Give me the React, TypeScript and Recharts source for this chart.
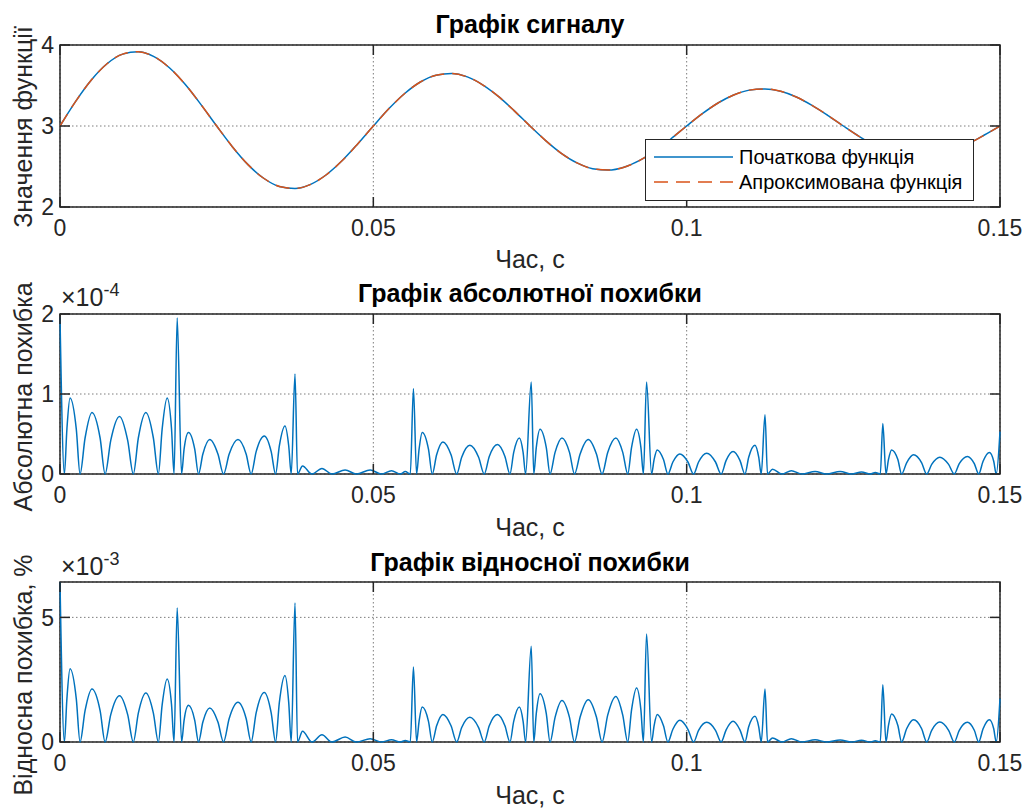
import React from 'react';
import { LineChart, Line, XAxis, YAxis, CartesianGrid, ReferenceArea, Legend } from 'recharts';

const FONT = '"Liberation Sans", Arial, Helvetica, sans-serif';
const AXIS = '#262626';
const BLUE = '#0072BD';
const ORANGE = '#D95319';

// x axis (time, s)
const xTicks = [0, 0.05, 0.1, 0.15];
const xTickLabels = ['0', '0.05', '0.1', '0.15'];

// signal plot
const signalT = [
  0, 0.0025, 0.005, 0.0075, 0.01, 0.0125, 0.015, 0.0175, 0.02, 0.0225,
  0.025, 0.0275, 0.03, 0.0325, 0.035, 0.0375, 0.04, 0.0425, 0.045, 0.0475,
  0.05, 0.0525, 0.055, 0.0575, 0.06, 0.0625, 0.065, 0.0675, 0.07, 0.0725,
  0.075, 0.0775, 0.08, 0.0825, 0.085, 0.0875, 0.09, 0.0925, 0.095, 0.0975,
  0.1, 0.1025, 0.105, 0.1075, 0.11, 0.1125, 0.115, 0.1175, 0.12, 0.1225,
  0.125, 0.1275, 0.13, 0.1325, 0.135, 0.1375, 0.14, 0.1425, 0.145, 0.1475,
  0.15,
];
const signalValues = [
  3.0, 3.304, 3.568, 3.768, 3.887, 3.917, 3.857, 3.716, 3.512, 3.264,
  3.0, 2.745, 2.523, 2.355, 2.254, 2.229, 2.28, 2.398, 2.57, 2.778,
  3.0, 3.215, 3.401, 3.543, 3.627, 3.648, 3.606, 3.506, 3.362, 3.187,
  3.0, 2.82, 2.663, 2.544, 2.473, 2.456, 2.491, 2.575, 2.696, 2.843,
  3.0, 3.152, 3.284, 3.383, 3.443, 3.458, 3.428, 3.358, 3.255, 3.132,
  3.0, 2.873, 2.762, 2.678, 2.628, 2.615, 2.64, 2.699, 2.785, 2.889,
  3.0,
];
const approxValues = [
  3.0, 3.304, 3.568, 3.768, 3.887, 3.917, 3.857, 3.716, 3.512, 3.264,
  3.0, 2.745, 2.523, 2.355, 2.254, 2.229, 2.28, 2.398, 2.57, 2.778,
  3.0, 3.215, 3.401, 3.543, 3.627, 3.648, 3.606, 3.506, 3.362, 3.187,
  3.0, 2.82, 2.663, 2.544, 2.473, 2.456, 2.491, 2.575, 2.696, 2.843,
  3.0, 3.152, 3.284, 3.383, 3.443, 3.458, 3.428, 3.358, 3.255, 3.132,
  3.0, 2.873, 2.762, 2.678, 2.628, 2.615, 2.64, 2.699, 2.785, 2.889,
  3.0,
];
const signalTicks = [2, 3, 4];
const signalTickLabels = ['2', '3', '4'];
const seriesNames = ['Початкова функція', 'Апроксимована функція'];

// error plots (abs in 1e-4, rel in 1e-3 %)
const errT = [
  0, 0.0007, 0.0011, 0.0016, 0.0026, 0.0032, 0.004, 0.0051, 0.0064, 0.0072,
  0.0081, 0.0095, 0.0108, 0.0117, 0.0125, 0.0137, 0.0149, 0.0157, 0.0163, 0.0171,
  0.0178, 0.0182, 0.0187, 0.0194, 0.0198, 0.0205, 0.0215, 0.0221, 0.0228, 0.0239,
  0.0252, 0.0261, 0.027, 0.0284, 0.0297, 0.0305, 0.0313, 0.0326, 0.0337, 0.0344,
  0.035, 0.0359, 0.0365, 0.0369, 0.0375, 0.0379, 0.0387, 0.0402, 0.0418, 0.0434,
  0.0455, 0.0473, 0.0495, 0.0513, 0.0529, 0.0543, 0.0551, 0.0559, 0.0564, 0.0569,
  0.0573, 0.0578, 0.0588, 0.0594, 0.0601, 0.0611, 0.0624, 0.0633, 0.0641, 0.0654,
  0.0668, 0.0677, 0.0685, 0.0698, 0.071, 0.0718, 0.0724, 0.0733, 0.0739, 0.0743,
  0.0752, 0.0756, 0.076, 0.0766, 0.0776, 0.0782, 0.079, 0.0801, 0.0813, 0.0821,
  0.083, 0.0843, 0.0856, 0.0865, 0.0874, 0.0887, 0.0898, 0.0906, 0.0912, 0.092,
  0.0927, 0.0931, 0.0936, 0.0944, 0.0948, 0.0953, 0.0963, 0.097, 0.0978, 0.0989,
  0.1002, 0.1011, 0.1019, 0.1032, 0.1046, 0.1055, 0.1063, 0.1074, 0.1085, 0.1093,
  0.1099, 0.1109, 0.1115, 0.1119, 0.1125, 0.1129, 0.1137, 0.1152, 0.1167, 0.1184,
  0.1205, 0.1223, 0.1245, 0.1263, 0.1279, 0.1293, 0.1301, 0.1309, 0.1313, 0.1318,
  0.1322, 0.1327, 0.1337, 0.1343, 0.1351, 0.1362, 0.1375, 0.1383, 0.1391, 0.1404,
  0.1418, 0.1427, 0.1435, 0.1448, 0.1459, 0.1466, 0.1473, 0.1483, 0.149, 0.1494,
  0.15,
];
const absErr = [
  1.96, 0, 0.56, 0.95, 0.56, 0, 0.45, 0.77, 0.45, 0,
  0.42, 0.72, 0.42, 0, 0.45, 0.77, 0.45, 0, 0.56, 0.95,
  0.56, 0, 1.95, 0, 0.31, 0.52, 0.31, 0, 0.25, 0.43,
  0.25, 0, 0.25, 0.43, 0.25, 0, 0.28, 0.475, 0.28, 0,
  0.35, 0.6, 0.35, 0, 1.25, 0, 0.1, 0, 0.07, 0,
  0.05, 0, 0.05, 0, 0.04, 0, 0.03, 0, 1.07, 0,
  0.31, 0.52, 0.31, 0, 0.24, 0.4, 0.24, 0, 0.21, 0.36,
  0.21, 0, 0.22, 0.37, 0.22, 0, 0.27, 0.45, 0.27, 0,
  1.15, 0, 0.33, 0.56, 0.33, 0, 0.27, 0.45, 0.27, 0,
  0.25, 0.43, 0.25, 0, 0.27, 0.45, 0.27, 0, 0.33, 0.56,
  0.33, 0, 1.15, 0, 0.18, 0.3, 0.18, 0, 0.15, 0.25,
  0.15, 0, 0.15, 0.26, 0.15, 0, 0.17, 0.28, 0.17, 0,
  0.21, 0.36, 0.21, 0, 0.74, 0, 0.06, 0, 0.04, 0,
  0.03, 0, 0.03, 0, 0.025, 0, 0.02, 0, 0.63, 0,
  0.18, 0.3, 0.18, 0, 0.14, 0.24, 0.14, 0, 0.12, 0.21,
  0.12, 0, 0.13, 0.22, 0.13, 0, 0.16, 0.27, 0.16, 0,
  0.53,
];
const relErr = [
  6.42, 0, 1.73, 2.94, 1.73, 0, 1.26, 2.13, 1.26, 0,
  1.1, 1.86, 1.1, 0, 1.16, 1.97, 1.16, 0, 1.49, 2.53,
  1.49, 0, 5.38, 0, 0.87, 1.47, 0.87, 0, 0.8, 1.36,
  0.8, 0, 0.94, 1.59, 0.94, 0, 1.17, 1.99, 1.17, 0,
  1.58, 2.67, 1.58, 0, 5.58, 0, 0.43, 0, 0.29, 0,
  0.2, 0, 0.13, 0, 0.09, 0, 0.06, 0, 3.01, 0,
  0.83, 1.4, 0.83, 0, 0.65, 1.1, 0.65, 0, 0.58, 0.99,
  0.58, 0, 0.65, 1.1, 0.65, 0, 0.83, 1.4, 0.83, 0,
  3.84, 0, 1.14, 1.94, 1.14, 0, 0.99, 1.67, 0.99, 0,
  1.0, 1.7, 1.0, 0, 1.08, 1.83, 1.08, 0, 1.28, 2.17,
  1.28, 0, 4.33, 0, 0.65, 1.1, 0.65, 0, 0.51, 0.87,
  0.51, 0, 0.47, 0.79, 0.47, 0, 0.49, 0.83, 0.49, 0,
  0.61, 1.03, 0.61, 0, 2.13, 0, 0.16, 0, 0.13, 0,
  0.09, 0, 0.08, 0, 0.07, 0, 0.05, 0, 2.3, 0,
  0.66, 1.12, 0.66, 0, 0.53, 0.89, 0.53, 0, 0.47, 0.8,
  0.47, 0, 0.47, 0.79, 0.47, 0, 0.53, 0.89, 0.53, 0,
  1.74,
];
const absTicks = [0, 1, 2];
const absTickLabels = ['0', '1', '2'];
const relTicks = [0, 5];
const relTickLabels = ['0', '5'];

const signalData = signalT.map((t, i) => ({ t, orig: signalValues[i], approx: approxValues[i] }));
const errData = errT.map((t, i) => ({ t, abs: absErr[i], rel: relErr[i] }));

const W = 1025;
const LEFT = 60;
const RIGHT = 1000;
const TICK = 10;
const DASH = '14 8';

const makeXTick = (top: number, bottom: number) => (props: any) => {
  const { x, payload } = props;
  const i = xTicks.indexOf(payload.value);
  return (
    <g>
      <line x1={x} x2={x} y1={bottom} y2={bottom - TICK} stroke={AXIS} strokeWidth={1.5} />
      <line x1={x} x2={x} y1={top} y2={top + TICK} stroke={AXIS} strokeWidth={1.5} />
      <text x={x} y={bottom + 29} textAnchor="middle" fontSize={23} fontFamily={FONT} fill={AXIS}>
        {i >= 0 ? xTickLabels[i] : payload.value}
      </text>
    </g>
  );
};

const makeYTick = (ticks: number[], labels: string[]) => (props: any) => {
  const { y, payload } = props;
  const i = ticks.indexOf(payload.value);
  return (
    <g>
      <line x1={LEFT} x2={LEFT + TICK} y1={y} y2={y} stroke={AXIS} strokeWidth={1.5} />
      <line x1={RIGHT} x2={RIGHT - TICK} y1={y} y2={y} stroke={AXIS} strokeWidth={1.5} />
      <text x={54} y={y} dy="0.36em" textAnchor="end" fontSize={23} fontFamily={FONT} fill={AXIS}>
        {i >= 0 ? labels[i] : payload.value}
      </text>
    </g>
  );
};

// legend in the order of seriesNames, dashed entry for the approximation
const renderLegend = (props: any) => {
  const items = [...(props.payload || [])].sort(
    (a: any, b: any) => seriesNames.indexOf(a.value) - seriesNames.indexOf(b.value)
  );
  return (
    <svg width={329} height={62} style={{ display: 'block' }}>
      <rect x={0.5} y={0.5} width={328} height={61} fill="#fff" stroke={AXIS} strokeWidth={1} />
      {items.map((it: any, i: number) => {
        const cy = 18 + i * 25;
        const dashed = it.value === seriesNames[1];
        return (
          <g key={i}>
            <line x1={9} x2={88} y1={cy} y2={cy} stroke={it.color} strokeWidth={1.5}
              strokeDasharray={dashed ? DASH : undefined} />
            <text x={94} y={cy + 7} fontSize={20} fontFamily={FONT} fill="#000">{it.value}</text>
          </g>
        );
      })}
    </svg>
  );
};

const charts = [
  { top: 0, height: 270, plotTop: 45, plotBottom: 207 },
  { top: 270, height: 270, plotTop: 44, plotBottom: 204 },
  { top: 540, height: 270, plotTop: 42, plotBottom: 202 },
];

const grid = (
  <CartesianGrid stroke={AXIS} strokeOpacity={0.6} strokeDasharray="1.5 2.5" />
);

export default function App() {
  const [c0, c1, c2] = charts;
  return (
    <div style={{ position: 'absolute', left: 0, top: 0, width: W, height: 810, background: '#fff', fontFamily: FONT }}>
      <div style={{ position: 'absolute', left: 0, top: c0.top }}>
        <LineChart width={W} height={c0.height} data={signalData}
          margin={{ top: c0.plotTop, right: W - RIGHT, bottom: 0, left: 0 }}>
          {grid}
          <XAxis dataKey="t" type="number" domain={[0, 0.15]} ticks={xTicks} interval={0}
            height={c0.height - c0.plotBottom} tickLine={false} axisLine={false}
            tick={makeXTick(c0.plotTop, c0.plotBottom)} />
          <YAxis type="number" domain={[2, 4]} ticks={signalTicks} interval={0} width={LEFT}
            tickLine={false} axisLine={false} tick={makeYTick(signalTicks, signalTickLabels)} />
          <Line type="monotone" dataKey="orig" name={seriesNames[0]} stroke={BLUE} strokeWidth={1.5}
            dot={false} isAnimationActive={false} />
          <Line type="monotone" dataKey="approx" name={seriesNames[1]} stroke={ORANGE} strokeWidth={1.5}
            strokeDasharray={DASH} dot={false} isAnimationActive={false} />
          <ReferenceArea x1={0} x2={0.15} y1={2} y2={4} fill="none" stroke={AXIS} strokeWidth={1.5} />
          <Legend verticalAlign="middle" content={renderLegend}
            wrapperStyle={{ left: 645, top: 139, width: 329, height: 62 }} />
        </LineChart>
      </div>

      <div style={{ position: 'absolute', left: 0, top: c1.top }}>
        <LineChart width={W} height={c1.height} data={errData}
          margin={{ top: c1.plotTop, right: W - RIGHT, bottom: 0, left: 0 }}>
          {grid}
          <XAxis dataKey="t" type="number" domain={[0, 0.15]} ticks={xTicks} interval={0}
            height={c1.height - c1.plotBottom} tickLine={false} axisLine={false}
            tick={makeXTick(c1.plotTop, c1.plotBottom)} />
          <YAxis type="number" domain={[0, 2]} ticks={absTicks} interval={0} width={LEFT}
            tickLine={false} axisLine={false} tick={makeYTick(absTicks, absTickLabels)} />
          <Line type="monotone" dataKey="abs" stroke={BLUE} strokeWidth={1.5}
            dot={false} isAnimationActive={false} />
          <ReferenceArea x1={0} x2={0.15} y1={0} y2={2} fill="none" stroke={AXIS} strokeWidth={1.5} />
        </LineChart>
      </div>

      <div style={{ position: 'absolute', left: 0, top: c2.top }}>
        <LineChart width={W} height={c2.height} data={errData}
          margin={{ top: c2.plotTop, right: W - RIGHT, bottom: 0, left: 0 }}>
          {grid}
          <XAxis dataKey="t" type="number" domain={[0, 0.15]} ticks={xTicks} interval={0}
            height={c2.height - c2.plotBottom} tickLine={false} axisLine={false}
            tick={makeXTick(c2.plotTop, c2.plotBottom)} />
          <YAxis type="number" domain={[0, 6.42]} ticks={relTicks} interval={0} width={LEFT}
            tickLine={false} axisLine={false} tick={makeYTick(relTicks, relTickLabels)} />
          <Line type="monotone" dataKey="rel" stroke={BLUE} strokeWidth={1.5}
            dot={false} isAnimationActive={false} />
          <ReferenceArea x1={0} x2={0.15} y1={0} y2={6.42} fill="none" stroke={AXIS} strokeWidth={1.5} />
        </LineChart>
      </div>

      <svg width={W} height={810} style={{ position: 'absolute', left: 0, top: 0, pointerEvents: 'none' }}>
        <g fontFamily={FONT} textAnchor="middle">
          <text x={530} y={33} fontSize={25} fontWeight="bold" fill="#000">Графік сигналу</text>
          <text x={530} y={302} fontSize={25} fontWeight="bold" fill="#000">Графік абсолютної похибки</text>
          <text x={530} y={571} fontSize={25} fontWeight="bold" fill="#000">Графік відносної похибки</text>
          <text x={530} y={268} fontSize={25} fill={AXIS}>Час, с</text>
          <text x={530} y={536} fontSize={25} fill={AXIS}>Час, с</text>
          <text x={530} y={804} fontSize={25} fill={AXIS}>Час, с</text>
          <text transform="translate(32,127) rotate(-90)" fontSize={25} fill={AXIS}>Значення функції</text>
          <text transform="translate(32,397) rotate(-90)" fontSize={25} fill={AXIS}>Абсолютна похибка</text>
          <text transform="translate(32,675) rotate(-90)" fontSize={25} fill={AXIS}>Відносна похибка, %</text>
        </g>
        <g fontFamily={FONT} fill={AXIS}>
          <text x={61} y={306} fontSize={25}>×10<tspan dy={-10} fontSize={18}>-4</tspan></text>
          <text x={61} y={575} fontSize={25}>×10<tspan dy={-10} fontSize={18}>-3</tspan></text>
        </g>
      </svg>
    </div>
  );
}
